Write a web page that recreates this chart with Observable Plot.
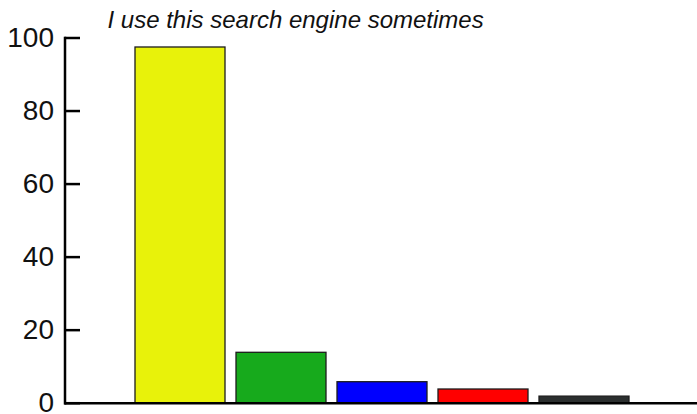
<!DOCTYPE html>
<html>
<head>
<meta charset="utf-8">
<script src="https://cdn.jsdelivr.net/npm/d3@7"></script>
<script src="https://cdn.jsdelivr.net/npm/@observablehq/plot@0.6"></script>
<style>
  html, body { margin: 0; padding: 0; background: #fff; }
  #chart svg { display: block; }
</style>
</head>
<body>
<div id="chart"></div>
<script>
const title = "I use this search engine sometimes";
const categories = ["Engine 1", "Engine 2", "Engine 3", "Engine 4", "Engine 5"];
const values = [97.4, 13.8, 5.75, 3.75, 1.8];
const colors = ["#e8f20a", "#17aa1c", "#0000ff", "#ff0000", "#2b2f2f"];
const yTicks = [0, 20, 40, 60, 80, 100];

const data = categories.map((c, i) => ({engine: c, value: values[i]}));

const W = 697, H = 414, ML = 64.5;
const font = "Arial, 'Liberation Sans', Helvetica, sans-serif";

const chart = Plot.plot({
  width: W,
  height: H,
  marginTop: 37.5,
  marginBottom: 11.3,
  marginLeft: ML,
  marginRight: 0,
  style: {fontFamily: font, background: "#fff", color: "#000", overflow: "visible"},
  x: {domain: categories, range: [127.6, 636.1], paddingInner: 0.105, paddingOuter: 0.0525, axis: null},
  y: {domain: [0, 100], axis: null},
  color: {domain: categories, range: colors},
  marks: [
    Plot.barY(data, {x: "engine", y: "value", fill: "engine", stroke: "#1c1c1c", strokeWidth: 1.3}),
    Plot.axisY({ticks: yTicks, tickSize: 0, tickPadding: 11, fontSize: 28, fill: "#111", label: null, tickFormat: d => String(d)}),
    Plot.tickY(yTicks, {y: d => d, stroke: "#000", strokeWidth: 2.5, insetRight: W - 80}),
    Plot.frame({anchor: "left", stroke: "#000", strokeWidth: 2.5}),
    Plot.ruleY([0], {stroke: "#000", strokeWidth: 2.5}),
    Plot.text([title], {frameAnchor: "top-left", textAnchor: "start", lineAnchor: "bottom", dx: 107 - ML, dy: -10.5, fontSize: 24, fontStyle: "italic", fill: "#111"})
  ]
});
document.getElementById("chart").append(chart);
</script>
</body>
</html>
